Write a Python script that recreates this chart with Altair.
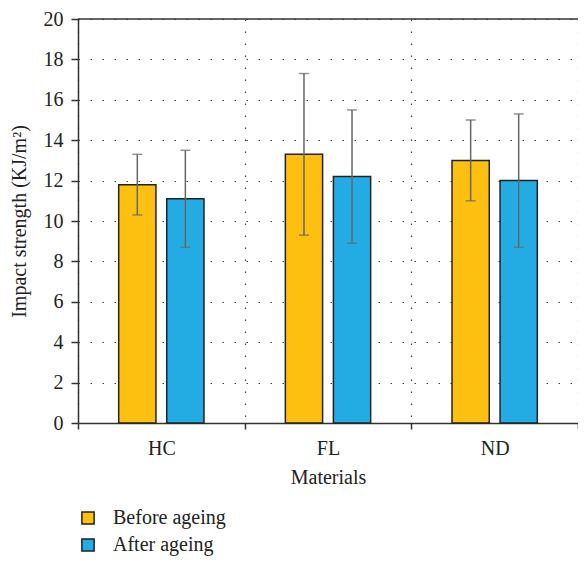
import altair as alt
import pandas as pd

materials = ["HC", "FL", "ND"]
series = ["Before ageing", "After ageing"]
before = [11.8, 13.3, 13.0]
before_lo = [10.3, 9.3, 11.0]
before_hi = [13.3, 17.3, 15.0]
after = [11.1, 12.2, 12.0]
after_lo = [8.7, 8.9, 8.7]
after_hi = [13.5, 15.5, 15.3]
colors = ["#FDC010", "#22ACE3"]

rows = []
for i, m in enumerate(materials):
    rows.append(dict(material=m, series=series[0], value=before[i], lo=before_lo[i], hi=before_hi[i]))
    rows.append(dict(material=m, series=series[1], value=after[i], lo=after_lo[i], hi=after_hi[i]))
df = pd.DataFrame(rows)

FONT = "Liberation Serif"
FS = 20

x = alt.X("material:N", sort=materials, title="Materials",
          scale=alt.Scale(paddingInner=0, paddingOuter=0),
          axis=alt.Axis(labelAngle=0, tickBand="extent", grid=True,
                        gridDash=[1.5, 10.5], gridColor="#444", gridWidth=1.2,
                        tickSize=6, labelPadding=9, titlePadding=9))
xo = alt.XOffset("series:N", sort=series,
                 scale=alt.Scale(paddingInner=0.2245, paddingOuter=0.847))
y = alt.Y("value:Q", title="Impact strength (KJ/m²)",
          scale=alt.Scale(domain=[0, 20], nice=False),
          axis=alt.Axis(values=list(range(0, 21, 2)), grid=True,
                        gridDash=[1.5, 10.5], gridColor="#444", gridWidth=1.2,
                        tickSize=7, labelPadding=8, titlePadding=14))

base = alt.Chart(df)

bars = base.mark_bar(stroke="#222", strokeWidth=1.5).encode(
    x=x, xOffset=xo, y=y,
    color=alt.Color("series:N", sort=series,
                    scale=alt.Scale(domain=series, range=colors),
                    legend=alt.Legend(title=None, orient="none", legendX=0, legendY=489,
                                      direction="vertical", symbolType="square",
                                      symbolSize=150, symbolStrokeColor="#222",
                                      symbolStrokeWidth=1.5, labelFontSize=FS,
                                      labelFont=FONT, labelColor="#222",
                                      rowPadding=7, labelOffset=15, padding=0)),
)

err = base.mark_rule(color="#666", strokeWidth=1.5).encode(
    x=alt.X("material:N", sort=materials), xOffset=xo,
    y="lo:Q", y2="hi:Q")
cap_hi = base.mark_tick(color="#666", thickness=1.5, size=10).encode(
    x=alt.X("material:N", sort=materials), xOffset=xo, y="hi:Q")
cap_lo = base.mark_tick(color="#666", thickness=1.5, size=10).encode(
    x=alt.X("material:N", sort=materials), xOffset=xo, y="lo:Q")

top = alt.Chart(pd.DataFrame({"v": [20]})).mark_rule(color="#333", strokeWidth=1.5).encode(
    y=alt.Y("v:Q"))

chart = alt.layer(bars, err, cap_hi, cap_lo, top).properties(
    width=500, height=404,
    autosize=alt.AutoSizeParams(type="none"),
    padding={"left": 70, "top": 11, "right": 0, "bottom": 134},
).configure_view(stroke=None).configure_axis(
    labelFont=FONT, titleFont=FONT, labelFontSize=FS, titleFontSize=FS,
    labelColor="#222", titleColor="#222", titleFontWeight="normal",
    domainColor="#333", domainWidth=1.5, tickColor="#333", tickWidth=1.5,
).configure_legend(labelFont=FONT)

chart.save("out.html", embed_options={"renderer": "svg", "actions": False})
